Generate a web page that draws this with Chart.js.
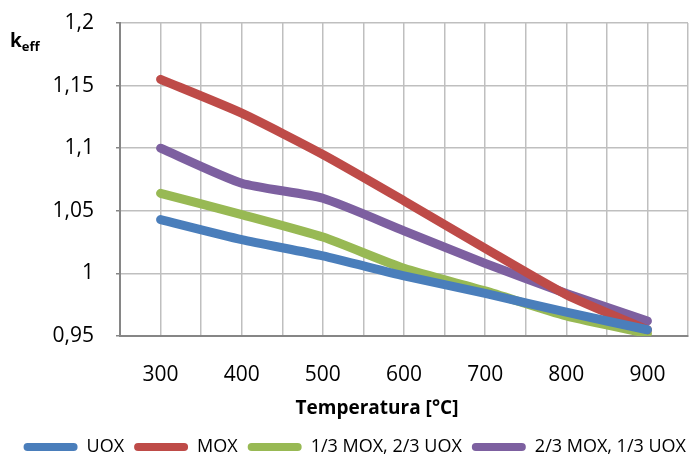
<!DOCTYPE html>
<html>
<head>
<meta charset="utf-8">
<script src="https://cdn.jsdelivr.net/npm/chart.js@4.4.1/dist/chart.umd.min.js"></script>
<style>
  html, body { margin: 0; padding: 0; background: #fff; }
  #wrap { width: 696px; height: 466px; }
</style>
</head>
<body>
<div id="wrap"><canvas id="kChart"></canvas></div>
<script>
// temperatures [°C]
const temperatures = [300, 400, 500, 600, 700, 800, 900];

// k_eff per fuel mix
const uox = [1.043, 1.027, 1.014, 0.998, 0.984, 0.969, 0.955];
const mox = [1.155, 1.128, 1.095, 1.058, 1.020, 0.983, 0.955];
const mox13 = [1.064, 1.047, 1.029, 1.004, 0.986, 0.966, 0.952];
const mox23 = [1.100, 1.072, 1.060, 1.034, 1.008, 0.984, 0.962];

const seriesNames = ["UOX", "MOX", "1/3 MOX, 2/3 UOX", "2/3 MOX, 1/3 UOX"];
const seriesColors = ["#4a7ebb", "#be4b48", "#98b954", "#7d60a0"];
const xTitle = "Temperatura [°C]";

const fontFamily = '"Open Sans", sans-serif';

function toPoints(values) {
  return values.map((v, i) => ({ x: temperatures[i], y: v }));
}

function comma(v) {
  return String(Math.round(v * 100) / 100).replace(".", ",");
}

// k_eff label with subscript + x axis title (Excel puts it a bit left of center)
const extraLabels = {
  id: "extraLabels",
  afterDraw(chart) {
    const ctx = chart.ctx;
    ctx.save();
    ctx.fillStyle = "#000";
    ctx.textBaseline = "alphabetic";
    ctx.textAlign = "left";
    ctx.font = "bold 19px " + fontFamily;
    ctx.fillText("k", 10, 47);
    const w = ctx.measureText("k").width;
    ctx.font = "bold 13px " + fontFamily;
    ctx.fillText("eff", 10 + w, 51);

    ctx.textAlign = "center";
    ctx.textBaseline = "middle";
    ctx.font = "bold 19px " + fontFamily;
    ctx.fillText(xTitle, 377, 409);
    ctx.restore();
  },
};

const allSeries = [uox, mox, mox13, mox23];

new Chart(document.getElementById("kChart"), {
  type: "line",
  data: {
    datasets: allSeries.map((values, i) => ({
      label: seriesNames[i],
      data: toPoints(values),
      borderColor: seriesColors[i],
      backgroundColor: seriesColors[i],
      borderWidth: 9,
      borderCapStyle: "round",
      borderJoinStyle: "round",
      pointRadius: 0,
      tension: 0.2,
      fill: false,
    })),
  },
  options: {
    responsive: true,
    maintainAspectRatio: false,
    animation: false,
    layout: { padding: { top: 23, right: 0, bottom: 0, left: 0 } },
    plugins: {
      legend: {
        position: "bottom",
        align: "end",
        labels: {
          boxWidth: 54,
          boxHeight: 8,
          useBorderRadius: true,
          borderRadius: 4,
          padding: 10,
          color: "#000",
          font: { family: fontFamily, size: 18 },
          generateLabels: (chart) =>
            chart.data.datasets.map((ds, i) => ({
              text: ds.label,
              fillStyle: ds.borderColor,
              strokeStyle: ds.borderColor,
              lineWidth: 0,
              borderRadius: 4,
              datasetIndex: i,
              hidden: false,
            })),
        },
      },
      tooltip: { enabled: false },
    },
    scales: {
      x: {
        type: "linear",
        min: 250,
        max: 950,
        afterFit: (scale) => {
          scale.paddingLeft = 0;
          scale.paddingRight = 8;
          scale.height = 92;
        },
        border: { color: "#868686", width: 2 },
        grid: { color: "#bfbfbf", lineWidth: 1.5, drawTicks: false },
        ticks: {
          stepSize: 50,
          autoSkip: false,
          maxRotation: 0,
          padding: 26,
          color: "#000",
          font: { family: fontFamily, size: 21 },
          callback: (v) => (v % 100 === 0 && v >= 300 && v <= 900 ? String(v) : ""),
        },
      },
      y: {
        min: 0.95,
        max: 1.2,
        afterFit: (scale) => {
          scale.width = 120;
          scale.paddingTop = 0;
          scale.paddingBottom = 0;
        },
        border: { color: "#868686", width: 2 },
        grid: { color: "#bfbfbf", lineWidth: 1.5, tickLength: 4, tickColor: "#868686" },
        ticks: {
          stepSize: 0.05,
          padding: 22,
          color: "#000",
          font: { family: fontFamily, size: 21 },
          callback: (v) => comma(v),
        },
      },
    },
  },
  plugins: [extraLabels],
});
</script>
</body>
</html>
